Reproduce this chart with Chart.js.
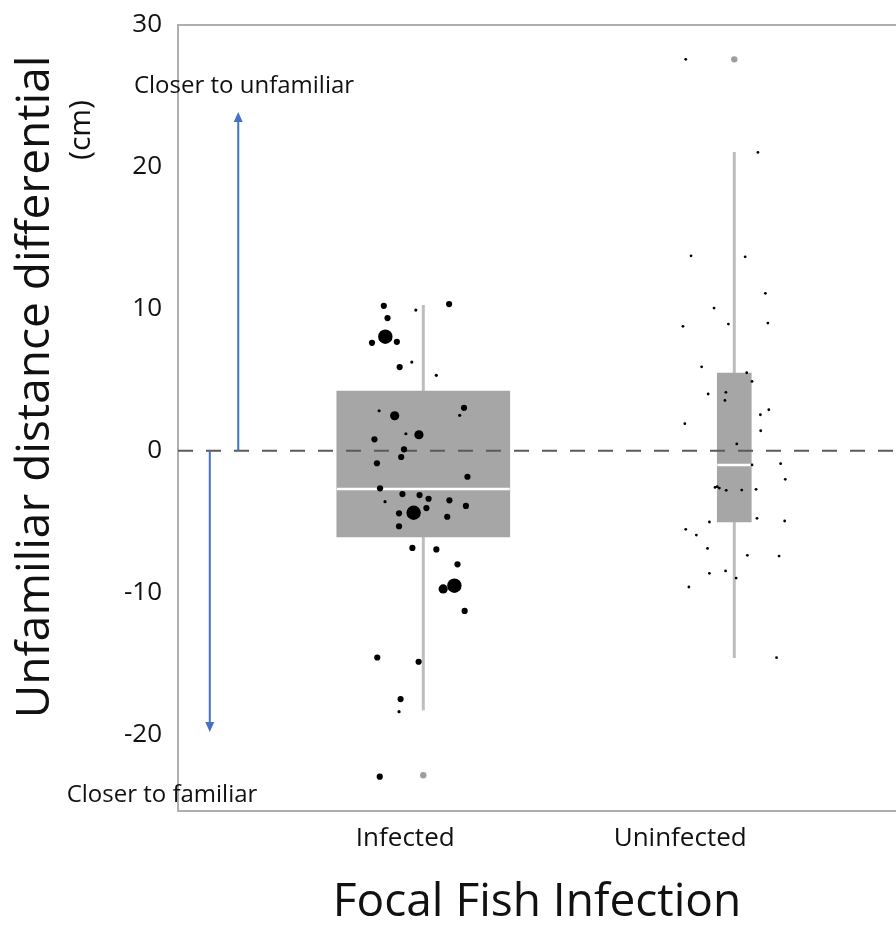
<!DOCTYPE html>
<html>
<head>
<meta charset="utf-8">
<script src="https://cdn.jsdelivr.net/npm/chart.js@4.4.1/dist/chart.umd.min.js"></script>
<style>
  html, body { margin: 0; padding: 0; background: #ffffff; }
  #wrap { width: 896px; height: 936px; position: relative; }
</style>
</head>
<body>
<div id="wrap"><canvas id="c" width="896" height="936"></canvas></div>
<script>
// ---------- DATA ----------
const categories = ['Infected', 'Uninfected'];
const categoryPos = [1, 2];
const yTicks = [30, 20, 10, 0, -10, -20];

// box statistics [low whisker, q1, median, q3, high whisker]
const infectedStats   = [-18.30, -6.09, -2.71, 4.20, 10.26];
const uninfectedStats = [-14.61, -5.03, -1.01, 5.47, 21.04];
const infectedOutliers   = [-22.88];
const uninfectedOutliers = [27.58];

// individual observations (x = jittered category position, y = value, n = marker weight)
const infectedX = [0.873,0.976,1.083,0.885,0.878,0.835,0.915,0.963,0.924,1.042,
                   1.131,0.858,0.908,1.117,0.944,0.986,0.843,0.938,0.929,0.851,
                   1.142,0.861,0.933,0.988,1.017,0.877,1.084,1.137,0.969,0.922,
                   1.010,1.077,0.922,0.965,1.042,1.110,1.064,1.100,1.133,0.852,
                   0.985,0.927,0.922,0.860];
const infectedY = [10.21,9.91,10.33,9.34,8.03,7.60,7.67,6.24,5.89,5.31,
                   3.02,2.81,2.46,2.49,1.19,1.12,0.80,0.09,-0.45,-0.89,
                   -1.84,-2.66,-3.06,-3.13,-3.39,-3.60,-3.50,-3.90,-4.38,-4.42,
                   -4.05,-4.66,-5.33,-6.86,-6.96,-8.01,-9.75,-9.52,-11.30,-14.58,
                   -14.88,-17.51,-18.40,-22.98];
const infectedN = [2,1,2,2,4,2,2,1,2,1,
                   2,1,3,1,1,3,2,2,2,2,
                   2,2,2,2,2,1,2,2,4,2,
                   2,2,2,2,2,2,3,4,2,2,
                   2,2,1,2];

const uninfectedX = [1.844,2.076,1.861,2.035,2.100,1.935,2.108,1.835,1.981,1.895,
                     2.040,2.057,1.916,1.973,1.970,2.111,2.084,1.841,2.085,2.008,
                     2.057,2.149,2.164,1.938,1.945,1.952,1.974,2.024,2.070,2.073,
                     2.162,1.920,1.844,1.878,1.914,2.042,2.144,1.920,1.972,2.006,
                     1.854,2.136];
const uninfectedY = [27.58,21.02,13.73,13.66,11.09,10.05,8.99,8.76,8.92,5.91,
                     5.49,4.88,3.99,4.11,3.54,2.88,2.53,1.90,1.40,0.47,
                     -1.01,-0.92,-2.02,-2.59,-2.54,-2.64,-2.80,-2.78,-2.73,-4.77,
                     -4.96,-5.03,-5.55,-5.95,-6.89,-7.38,-7.43,-8.65,-8.48,-8.98,
                     -9.61,-14.59];

// ---------- helpers ----------
const FONT = "'Open Sans', 'Noto Sans', sans-serif";
const radiusForN = n => [0, 1.6, 3.1, 4.6, 7.2][n];
const pts = (xs, ys) => xs.map((x, i) => ({ x: x, y: ys[i] }));

const boxColor = '#A6A6A6';
const whiskerColor = '#BDBDBD';
const axisColor = '#AFAFAF';

const X_MIN = 0.2113, X_MAX = 2.52;

const annotationPlugin = {
  id: 'annot',
  afterDraw(chart) {
    const ctx = chart.ctx;
    const xs = chart.scales.x, ys = chart.scales.y;
    const a = chart.chartArea;
    ctx.save();
    // top frame line
    ctx.strokeStyle = axisColor;
    ctx.lineWidth = 2;
    ctx.beginPath();
    ctx.moveTo(a.left - 1, a.top);
    ctx.lineTo(a.right, a.top);
    ctx.stroke();

    // arrows
    const arrow = (xv, y0, y1) => {
      const px = xs.getPixelForValue(xv);
      const p0 = ys.getPixelForValue(y0);
      const p1 = ys.getPixelForValue(y1);
      const dir = p1 < p0 ? -1 : 1;
      ctx.strokeStyle = '#4472C4';
      ctx.fillStyle = '#4472C4';
      ctx.lineWidth = 2;
      ctx.beginPath();
      ctx.moveTo(px, p0);
      ctx.lineTo(px, p1 - dir * 9);
      ctx.stroke();
      ctx.beginPath();
      ctx.moveTo(px, p1);
      ctx.lineTo(px - 4.5, p1 - dir * 10);
      ctx.lineTo(px + 4.5, p1 - dir * 10);
      ctx.closePath();
      ctx.fill();
    };
    arrow(0.405, 0, 23.86);
    arrow(0.3135, 0, -19.83);

    ctx.fillStyle = '#111111';
    ctx.textAlign = 'center';
    ctx.textBaseline = 'middle';
    ctx.font = "24px " + FONT;
    ctx.fillText('Closer to unfamiliar', 244, 86);
    ctx.fillText('Closer to familiar', 162, 795);

    // x title
    ctx.font = "46px " + FONT;
    ctx.fillText('Focal Fish Infection', 537, 903);

    // y title
    ctx.save();
    ctx.translate(36, 387);
    ctx.rotate(-Math.PI / 2);
    ctx.font = "46px " + FONT;
    ctx.fillText('Unfamiliar distance differential', 0, 0);
    ctx.restore();
    ctx.save();
    ctx.translate(81, 130);
    ctx.rotate(-Math.PI / 2);
    ctx.font = "30px " + FONT;
    ctx.fillText('(cm)', 0, 0);
    ctx.restore();

    ctx.restore();
  }
};

const cfg = {
  type: 'bar',
  data: {
    datasets: [
      // whiskers
      { type: 'line', order: 6, data: [{x: categoryPos[0], y: infectedStats[0]}, {x: categoryPos[0], y: infectedStats[4]}],
        borderColor: whiskerColor, borderWidth: 3, pointRadius: 0 },
      { type: 'line', order: 6, data: [{x: categoryPos[1], y: uninfectedStats[0]}, {x: categoryPos[1], y: uninfectedStats[4]}],
        borderColor: whiskerColor, borderWidth: 3, pointRadius: 0 },
      // boxes
      { type: 'bar', order: 5, data: [{x: categoryPos[0], y: [infectedStats[1], infectedStats[3]]}],
        backgroundColor: boxColor, borderWidth: 0, barThickness: 173, grouped: false },
      { type: 'bar', order: 5, data: [{x: categoryPos[1], y: [uninfectedStats[1], uninfectedStats[3]]}],
        backgroundColor: boxColor, borderWidth: 0, barThickness: 34, grouped: false },
      // medians
      { type: 'scatter', order: 4, data: [{x: categoryPos[0], y: infectedStats[2]}],
        pointStyle: 'line', pointRadius: 86.5, borderColor: '#ffffff', pointBorderWidth: 2.5, borderWidth: 2.5 },
      { type: 'scatter', order: 4, data: [{x: categoryPos[1], y: uninfectedStats[2]}],
        pointStyle: 'line', pointRadius: 17, borderColor: '#ffffff', pointBorderWidth: 2.5, borderWidth: 2.5 },
      // zero reference line
      { type: 'line', order: 3, data: [{x: X_MIN, y: 0}, {x: X_MAX, y: 0}],
        borderColor: '#5A5A5A', borderWidth: 2, borderDash: [15, 13], pointRadius: 0 },
      // outliers
      { type: 'scatter', order: 2,
        data: pts(infectedOutliers.map(() => categoryPos[0]), infectedOutliers)
              .concat(pts(uninfectedOutliers.map(() => categoryPos[1]), uninfectedOutliers)),
        pointRadius: 3.2, backgroundColor: '#9E9E9E', borderWidth: 0 },
      // observations
      { type: 'scatter', order: 1, data: pts(infectedX, infectedY),
        pointRadius: infectedN.map(radiusForN), backgroundColor: '#000000', borderWidth: 0 },
      { type: 'scatter', order: 1, data: pts(uninfectedX, uninfectedY),
        pointRadius: 1.4, backgroundColor: '#000000', borderWidth: 0 }
    ]
  },
  options: {
    responsive: false,
    animation: false,
    events: [],
    layout: { autoPadding: false, padding: { top: 25, right: 0, bottom: 0, left: 0 } },
    plugins: { legend: { display: false }, tooltip: { enabled: false } },
    scales: {
      x: {
        type: 'linear',
        min: X_MIN, max: X_MAX,
        offset: false,
        grid: { display: false, drawTicks: false },
        border: { display: true, color: axisColor, width: 2 },
        afterBuildTicks(scale) {
          scale.ticks = [{ value: categoryPos[0] - 0.058 }, { value: categoryPos[1] - 0.174 }];
        },
        ticks: {
          autoSkip: false, maxRotation: 0,
          padding: 12,
          color: '#111111',
          font: { family: FONT, size: 26 },
          callback: (v, i) => categories[i]
        },
        afterFit(scale) {
          scale.height = 125;
          scale.paddingLeft = 0; scale.paddingRight = 0;
        }
      },
      y: {
        min: -25.4, max: 30,
        grid: { display: false, drawTicks: false },
        border: { display: true, color: axisColor, width: 2 },
        afterBuildTicks(scale) { scale.ticks = yTicks.map(v => ({ value: v })); },
        ticks: {
          padding: 16,
          color: '#111111',
          font: { family: FONT, size: 26 }
        },
        afterFit(scale) {
          scale.width = 178;
          scale.paddingTop = 0; scale.paddingBottom = 0;
        }
      }
    }
  },
  plugins: [annotationPlugin]
};

new Chart(document.getElementById('c'), cfg);
</script>
</body>
</html>
